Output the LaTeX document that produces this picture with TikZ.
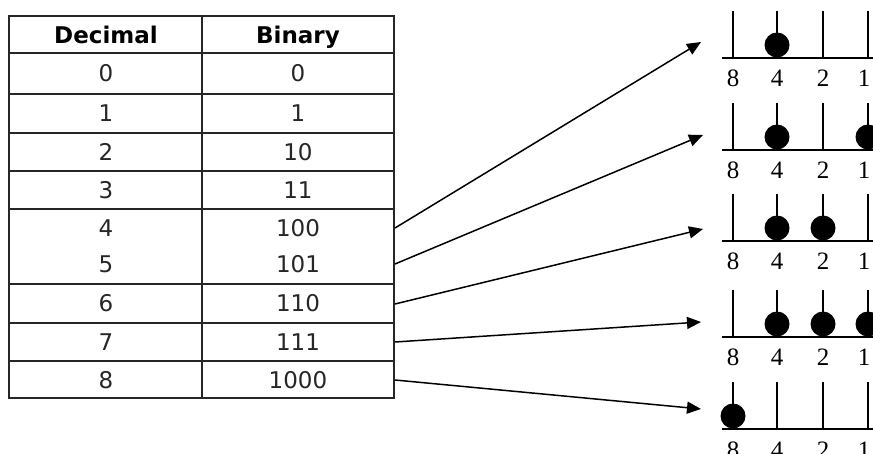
\documentclass[tikz,border=0pt]{standalone}
\usepackage{fontspec}
\setmainfont{Liberation Serif}
\newfontfamily\tabfont{DejaVu Sans}
\usetikzlibrary{arrows.meta}
\tikzset{
  cell/.style={inner sep=0pt, anchor=base, font=\tabfont\fontsize{23}{23}\selectfont, text=black!85},
  head/.style={inner sep=0pt, anchor=base, font=\tabfont\bfseries\fontsize{23}{23}\selectfont},
  grid/.style={line width=2pt, black!85},
  conn/.style={line width=1.5pt, -{Triangle[length=14pt,width=12pt]}},
  rod/.style={line width=1.6pt},
  bead/.style={fill=black},
  lab/.style={inner sep=0pt, anchor=base, font=\fontsize{25}{25}\selectfont}
}
\begin{document}
\begin{tikzpicture}[x=1pt,y=-1pt]
\useasboundingbox (0,0) rectangle (873,454);
\clip (0,0) rectangle (873,454);
\fill[white] (0,0) rectangle (873,454);
% table frame
\draw[grid] (9,15.7) rectangle (394,398);
\draw[grid] (202,15.7) -- (202,398);
\foreach \y in {53,94,133,171,209,284,323,361}
  \draw[grid] (9,\y) -- (394,\y);
% headers
\node[head] (hd) at (106,43.5) {Decimal};
\node[head] (hb) at (298,43.5) {Binary};
% cells
\foreach \n/\b/\y in {0/0/73.5, 1/1/113.5, 2/10/152, 3/11/190, 4/100/228, 5/101/264, 6/110/303.5, 7/111/342, 8/1000/380}{
  \node[cell] (d\n) at (106,\y+8.5) {\n};
  \node[cell] (b\n) at (298,\y+8.5) {\b};
}
% connector coordinates
\coordinate (s4) at (395,228);
\coordinate (s5) at (395,264);
\coordinate (s6) at (395,304);
\coordinate (s7) at (395,342);
\coordinate (s8) at (395,380);
\coordinate (e4) at (701,42);
\coordinate (e5) at (703,135);
\coordinate (e6) at (703,229);
\coordinate (e7) at (701,322);
\coordinate (e8) at (701,409);
\foreach \i in {4,...,8} \draw[conn] (s\i) -- (e\i);
% abacus diagrams
\foreach \base/\beads [count=\k] in {58/{777}, 150/{777,868}, 241/{777,823}, 337/{777,823,868}, 429/{733}}{
  \draw[rod] (722,\base) -- (880,\base);
  \foreach \x in {733,777,823,868}
    \draw[rod] (\x,\base-47) -- (\x,\base);
  \foreach \x in \beads
    \fill[bead] (\x,\base-13) circle (12.5);
  \node[lab] (l8-\k) at (733,\base+29) {8};
  \node[lab] (l4-\k) at (777,\base+29) {4};
  \node[lab] (l2-\k) at (823,\base+29) {2};
  \node[lab] (l1-\k) at (864,\base+29) {1};
}
\end{tikzpicture}
\end{document}
